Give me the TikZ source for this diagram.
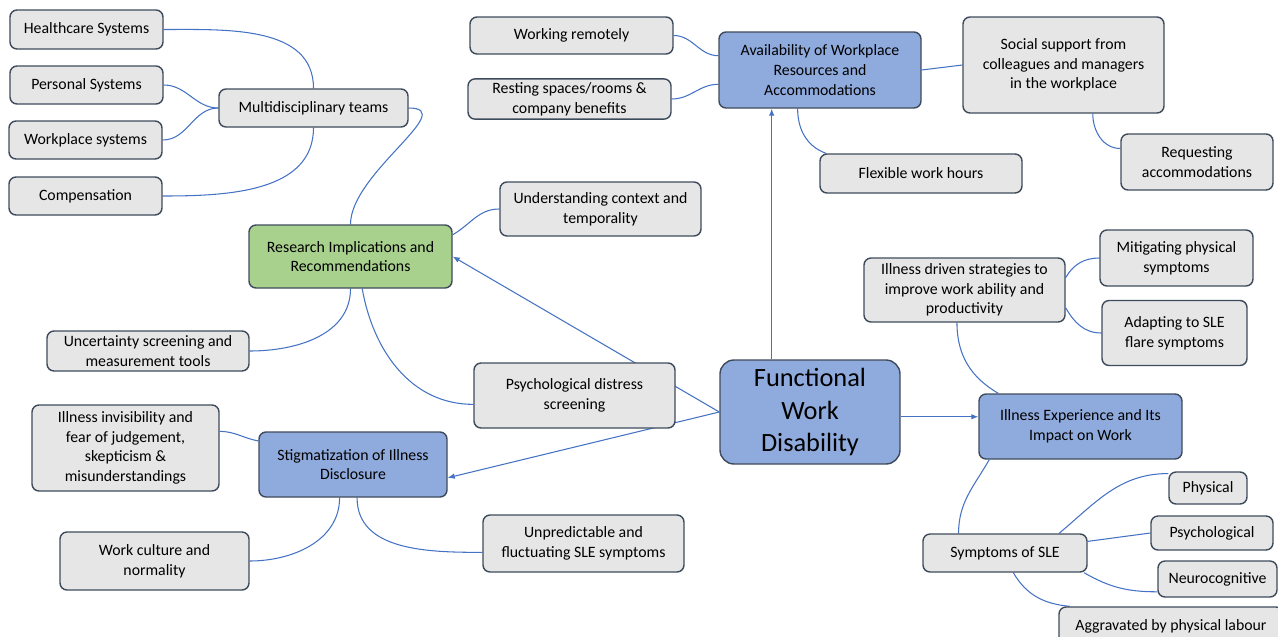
\documentclass[tikz,border=0pt]{standalone}
\usepackage{fontspec}
\setmainfont{Carlito}
\usetikzlibrary{arrows.meta,backgrounds}
\definecolor{boxgrey}{HTML}{E7E6E6}
\definecolor{boxline}{HTML}{3E4B5C}
\definecolor{boxblue}{HTML}{8FAADC}
\definecolor{boxgreen}{HTML}{A9D18E}
\definecolor{linkblue}{HTML}{4472C4}

\begin{document}
\begin{tikzpicture}[>={Latex[length=4pt,width=3.2pt]},
    every node/.style={font=\fontsize{9}{11.2}\selectfont, align=center},
    topic/.style={draw=boxline, line width=0.8pt, rounded corners=4pt, fill=boxgrey, inner sep=2pt},
    theme/.style={topic, fill=boxblue},
    link/.style={draw=linkblue, line width=0.6pt}]
  \useasboundingbox (0,0) rectangle (25.56,-12.72);

  \node[topic, minimum width=3.06cm, minimum height=0.78cm] (hcs) at (1.73,-0.59) {Healthcare Systems};
  \node[topic, minimum width=3.06cm, minimum height=0.76cm] (pers) at (1.73,-1.70) {Personal Systems};
  \node[topic, minimum width=3.06cm, minimum height=0.76cm] (wps) at (1.71,-2.80) {Workplace systems};
  \node[topic, minimum width=3.06cm, minimum height=0.76cm] (comp) at (1.71,-3.92) {Compensation};
  \node[topic, minimum width=3.78cm, minimum height=0.76cm] (multi) at (6.27,-2.16) {Multidisciplinary teams};
  \node[topic, fill=boxgreen, minimum width=4.06cm, minimum height=1.26cm] (resimp) at (7.01,-5.13) {Research Implications and\\Recommendations};
  \node[topic, minimum width=4.02cm, minimum height=1.08cm] (under) at (12.01,-4.18) {Understanding context and\\temporality};
  \node[topic, minimum width=4.04cm, minimum height=0.80cm] (uncert) at (2.96,-7.02) {Uncertainty screening and\\measurement tools};
  \node[topic, minimum width=4.02cm, minimum height=1.30cm] (distress) at (11.49,-7.91) {Psychological distress\\screening};
  \node[topic, minimum width=3.74cm, minimum height=1.72cm] (invis) at (2.51,-8.96) {Illness invisibility and\\fear of judgement,\\skepticism \&\\misunderstandings};
  \node[theme, minimum width=3.76cm, minimum height=1.30cm] (stigma) at (7.06,-9.29) {Stigmatization of Illness\\Disclosure};
  \node[topic, minimum width=3.78cm, minimum height=1.16cm] (culture) at (3.09,-11.22) {Work culture and\\normality};
  \node[topic, minimum width=4.02cm, minimum height=1.14cm] (unpred) at (11.67,-10.87) {Unpredictable and\\fluctuating SLE symptoms};

  \node[theme, rounded corners=8pt, minimum width=3.60cm, minimum height=2.08cm, font=\fontsize{15}{18.5}\selectfont] (fwd) at (16.20,-8.24) {Functional\\Work\\Disability};

  \node[topic, minimum width=4.06cm, minimum height=0.74cm] (remote) at (11.43,-0.71) {Working remotely};
  \node[topic, minimum width=4.06cm, minimum height=0.80cm] (resting) at (11.39,-1.98) {Resting spaces/rooms \&\\company benefits};
  \node[theme, minimum width=4.04cm, minimum height=1.52cm] (avail) at (16.40,-1.40) {Availability of Workplace\\Resources and\\Accommodations};
  \node[topic, minimum width=4.02cm, minimum height=1.92cm] (social) at (21.27,-1.30) {Social support from\\colleagues and managers\\in the workplace};
  \node[topic, minimum width=3.04cm, minimum height=1.12cm] (request) at (23.94,-3.24) {Requesting\\accommodations};
  \node[topic, minimum width=4.04cm, minimum height=0.78cm] (flexhrs) at (18.42,-3.47) {Flexible work hours};

  \node[topic, minimum width=4.02cm, minimum height=1.28cm] (strat) at (19.29,-5.80) {Illness driven strategies to\\improve work ability and\\productivity};
  \node[topic, minimum width=3.06cm, minimum height=1.12cm] (mitig) at (23.53,-5.16) {Mitigating physical\\symptoms};
  \node[topic, minimum width=2.90cm, minimum height=1.30cm] (adapt) at (23.49,-6.66) {Adapting to SLE\\flare symptoms};
  \node[theme, minimum width=4.06cm, minimum height=1.30cm] (illexp) at (21.61,-8.53) {Illness Experience and Its\\Impact on Work};
  \node[topic, minimum width=3.28cm, minimum height=0.76cm] (symp) at (20.10,-11.06) {Symptoms of SLE};
  \node[topic, minimum width=1.56cm, minimum height=0.64cm] (phys) at (24.16,-9.76) {Physical};
  \node[topic, minimum width=2.44cm, minimum height=0.68cm] (psych) at (24.24,-10.66) {Psychological};
  \node[topic, minimum width=2.38cm, minimum height=0.72cm] (neuro) at (24.35,-11.58) {Neurocognitive};
  \node[topic, minimum width=4.48cm, minimum height=0.76cm] (aggr) at (23.42,-12.52) {Aggravated by physical labour};

  \begin{scope}[on background layer]
    \draw[link] (hcs.east) to[out=0,in=90] (multi.north);
    \draw[link] (pers.east) to[out=0,in=180] (multi.west);
    \draw[link] (wps.east) to[out=0,in=180] (multi.west);
    \draw[link] (comp.east) to[out=0,in=-90] (multi.south);
    \draw[link] (multi.east) to[out=0,in=90] (resimp.north);
    \draw[link] (under.west) to[out=180,in=30] (resimp.12);
    \draw[link] (resimp.south) to[out=-90,in=0] (uncert.east);
    \draw[link] (resimp.-70) to[out=-80,in=180] (distress.185);
    \draw[link] (invis.10) to[out=0,in=170] (stigma.166);
    \draw[link] (stigma.-112) to[out=-90,in=0] (culture.east);
    \draw[link] (stigma.-83) to[out=-90,in=180] (unpred.185);

    \draw[link,->] (fwd.west) -- (resimp.east);
    \draw[link,->] (fwd.west) -- (stigma.-8);
    \draw[link,->] (fwd.126) -- (fwd.126 |- avail.south);
    \draw[link,->] (fwd.-3) -- (fwd.-3 -| illexp.west);

    \draw[link] (remote.east) to[out=0,in=180] (avail.172);
    \draw[link] (resting.east) to[out=0,in=180] (avail.188);
    \draw[link] (avail.east) -- (social.west);
    \draw[link] (avail.-120) to[out=-90,in=160] (flexhrs.168);
    \draw[link] (social.-59) to[out=-90,in=180] (request.170);

    \draw[link] (strat.-103) to[out=-90,in=150] (illexp.158);
    \draw[link] (mitig.west) to[out=180,in=60] (strat.7);
    \draw[link] (adapt.west) to[out=180,in=-60] (strat.-10);
    \draw[link] (illexp.200) to[out=-120,in=90] (symp.157);
    \draw[link] (symp.20) to[out=40,in=180] (phys.160);
    \draw[link] (symp.8) -- (psych.west);
    \draw[link] (symp.-14) to[out=-30,in=180] (neuro.192);
    \draw[link] (symp.-67) to[out=-60,in=175] (aggr.169);
  \end{scope}
\end{tikzpicture}
\end{document}
